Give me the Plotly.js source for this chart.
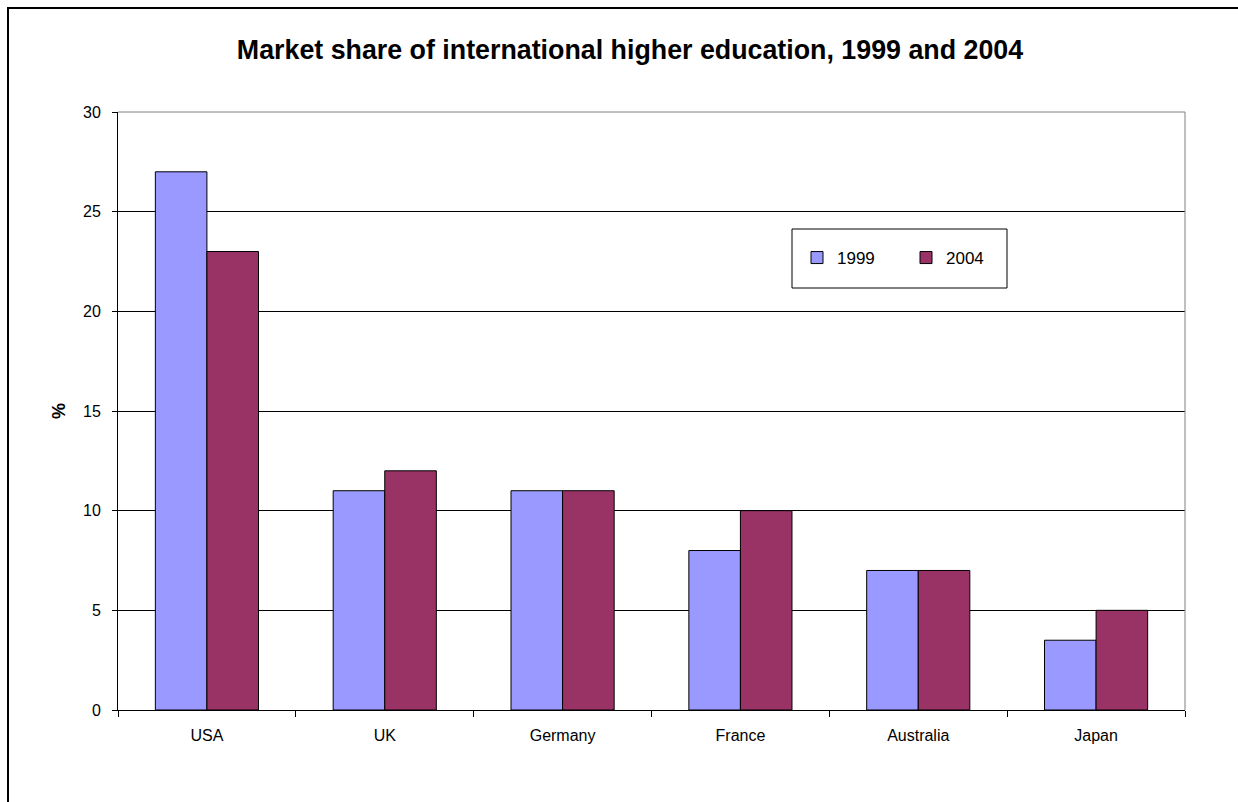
<!DOCTYPE html>
<html>
<head>
<meta charset="utf-8">
<script src="https://cdn.plot.ly/plotly-3.0.1.min.js"></script>
<style>html,body{margin:0;padding:0;background:#fff;}#chart{width:1238px;height:802px;}</style>
</head>
<body>
<div id="chart"></div>
<script>
const countries = ["USA", "UK", "Germany", "France", "Australia", "Japan"];
const share1999 = [27, 11, 11, 8, 7, 3.5];
const share2004 = [23, 12, 11, 10, 7, 5];
const seriesNames = ["1999", "2004"];

const L = 118, R = 1185, T = 112, B = 710, W = 1238, H = 802;
const pw = R - L, ph = B - T;
const px = x => (x - L) / pw;
const py = y => (B - y) / ph;

const traces = [
  {type: "bar", name: seriesNames[0], x: countries, y: share1999,
   marker: {color: "#9999ff", line: {color: "#000", width: 1}}},
  {type: "bar", name: seriesNames[1], x: countries, y: share2004,
   marker: {color: "#993366", line: {color: "#000", width: 1}}}
];

const layout = {
  width: W, height: H,
  margin: {l: L, r: W - R, t: T, b: H - B, pad: 0},
  paper_bgcolor: "#fff", plot_bgcolor: "#fff",
  font: {family: "Liberation Sans, Arial, sans-serif", color: "#000", size: 16},
  title: {text: "<b>Market share of international higher education, 1999 and 2004</b>",
          font: {size: 26.8}, x: 630 / W, xanchor: "center", xref: "container",
          y: 1 - 50 / H, yanchor: "middle", yref: "container"},
  barmode: "group", bargap: 0.42, bargroupgap: 0,
  xaxis: {type: "category", showline: true, linecolor: "#000", linewidth: 1,
          ticks: "outside", tickson: "boundaries", ticklen: 6, tickcolor: "#000",
          showgrid: false, tickfont: {size: 16}, ticklabelstandoff: 11, fixedrange: true},
  yaxis: {range: [0, 30], dtick: 5, showline: true, linecolor: "#000", linewidth: 1,
          ticks: "outside", ticklen: 5, tickcolor: "#000", showgrid: true,
          gridcolor: "#000", gridwidth: 1, zeroline: false, tickfont: {size: 16},
          ticklabelstandoff: 8,
          title: {text: "<b>%</b>", font: {size: 18}, standoff: 12}, fixedrange: true},
  showlegend: true,
  legend: {orientation: "h", x: px(797), y: py(258), xanchor: "left", yanchor: "middle",
           bgcolor: "rgba(0,0,0,0)", borderwidth: 0, font: {size: 17},
           entrywidth: 64, entrywidthmode: "pixels", itemwidth: 30},
  shapes: [
    {type: "line", xref: "paper", yref: "paper", x0: 0, x1: 1, y0: 1, y1: 1,
     line: {color: "#808080", width: 1}, layer: "above"},
    {type: "line", xref: "paper", yref: "paper", x0: 1, x1: 1, y0: 0, y1: 1,
     line: {color: "#808080", width: 1}, layer: "above"},
    {type: "rect", xref: "paper", yref: "paper", x0: px(8), x1: px(1260), y0: py(8), y1: py(830),
     line: {color: "#000", width: 2}},
    {type: "rect", xref: "paper", yref: "paper", x0: px(792), x1: px(1007), y0: py(229), y1: py(288),
     line: {color: "#000", width: 1}, fillcolor: "#fff", layer: "below"}
  ]
};

Plotly.newPlot("chart", traces, layout, {displayModeBar: false, staticPlot: true});
</script>
</body>
</html>
